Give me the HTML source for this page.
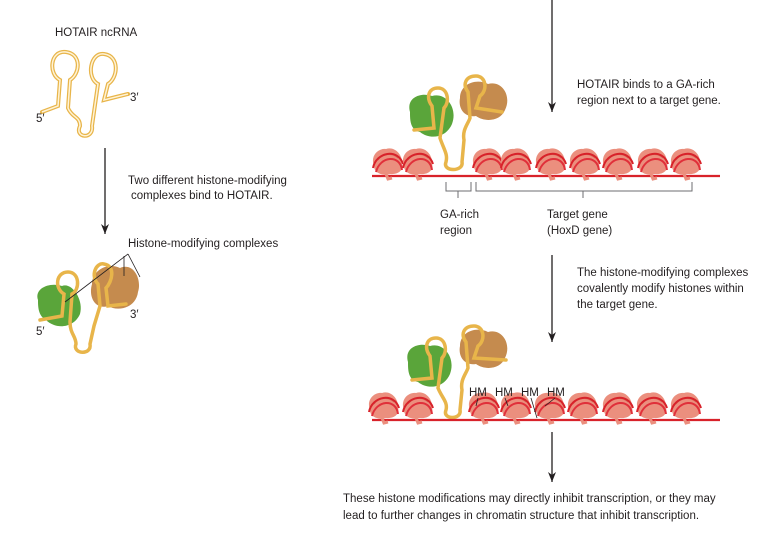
<!DOCTYPE html>
<html><head><meta charset="utf-8"><style>
html,body{margin:0;padding:0;background:#fff}
svg{display:block}
text{font-family:"Liberation Sans",sans-serif;font-size:11.5px;fill:#231f20}
</style></head><body>
<svg width="776" height="542" viewBox="0 0 776 542" xmlns="http://www.w3.org/2000/svg">
<defs>
<marker id="ah" markerWidth="12" markerHeight="10" refX="10" refY="4" orient="auto" markerUnits="userSpaceOnUse">
<path d="M0,0 L10,4 L0,8 L3,4 Z" fill="#231f20"/></marker>
<g id="nuc">
<path d="M-14,4 C-18,-6 -10,-14 -2,-13 C6,-16 15,-8 14,2 C16,8 10,13 2,12 C-6,14 -14,11 -14,4Z" fill="#eb8f7e"/>
<path d="M-10,-2 C-6,-8 4,-10 10,-4" stroke="#d5705f" stroke-width="1.2" fill="none"/>
<path d="M-15,6 C-12,-10 10,-14 15,2" stroke="#d8222a" stroke-width="2" fill="none"/>
<path d="M-12,10 C-8,-6 12,-8 14,8" stroke="#e0303a" stroke-width="2" fill="none"/>
<path d="M-2,12 L0,17 L4,16" stroke="#eb8f7e" stroke-width="3" fill="none"/>
</g>
</defs>

<!-- left RNA 1 -->
<g stroke="#e8b54a" stroke-width="4" fill="none" stroke-linecap="round">
<path d="M42,112 L58,106 L60,80 C48,74 50,50 66,52 C82,54 80,74 70,80 L68,108 C72,118 80,116 80,126 C74,138 94,140 92,126 L94,112 L98,84 C86,78 90,52 104,54 C120,56 118,78 108,84 L104,100 L128,94"/>
</g>
<g stroke="#fff3d6" stroke-width="1.5" fill="none">
<path d="M42,112 L58,106 L60,80 C48,74 50,50 66,52 C82,54 80,74 70,80 L68,108 C72,118 80,116 80,126 C74,138 94,140 92,126 L94,112 L98,84 C86,78 90,52 104,54 C120,56 118,78 108,84 L104,100 L128,94"/>
</g>
<text x="55" y="36">HOTAIR ncRNA</text>
<text x="36" y="122">5′</text>
<text x="130" y="101">3′</text>

<line x1="105" y1="148" x2="105" y2="234" stroke="#231f20" stroke-width="1.3" marker-end="url(#ah)"/>
<text x="128" y="184">Two different histone-modifying</text>
<text x="131" y="199">complexes bind to HOTAIR.</text>
<text x="128" y="247">Histone-modifying complexes</text>

<!-- left complex -->
<path d="M38,300 C34,288 50,282 62,286 C72,282 84,300 80,314 C74,328 56,330 46,320 C38,316 38,306 38,300Z" fill="#5aa53a"/>
<path d="M92,284 C92,270 108,262 120,268 C134,262 142,280 138,292 C136,308 118,312 108,306 C96,310 88,298 92,284Z" fill="#c58b4e"/>
<g stroke="#e8b54a" stroke-width="3.5" fill="none" stroke-linecap="round">
<path d="M40,320 L62,316 L64,294 C54,288 56,272 68,272 C80,272 80,290 72,294 L70,322 C70,334 76,336 76,344 C72,354 92,356 90,344 L94,326 L100,306 L98,284 C90,276 96,262 104,264 C116,266 112,282 106,288 L108,306 L126,304"/>
</g>
<line x1="65" y1="302" x2="128" y2="254" stroke="#231f20" stroke-width="0.8"/>
<line x1="128" y1="254" x2="140" y2="277" stroke="#231f20" stroke-width="0.8"/>
<line x1="124" y1="256" x2="124" y2="276" stroke="#231f20" stroke-width="0.8"/>
<text x="36" y="335">5′</text>
<text x="130" y="318">3′</text>

<!-- right arrows -->
<line x1="552" y1="0" x2="552" y2="112" stroke="#231f20" stroke-width="1.3" marker-end="url(#ah)"/>
<text x="577" y="88">HOTAIR binds to a GA-rich</text>
<text x="577" y="104">region next to a target gene.</text>

<!-- chromatin row1 -->
<path d="M372,176 L720,176" stroke="#d8222a" stroke-width="2.2" fill="none"/>
<g>
<use href="#nuc" x="388" y="162"/><use href="#nuc" x="418" y="162"/>
<use href="#nuc" x="488" y="162"/><use href="#nuc" x="516" y="162"/><use href="#nuc" x="551" y="162"/>
<use href="#nuc" x="585" y="162"/><use href="#nuc" x="618" y="162"/><use href="#nuc" x="653" y="162"/><use href="#nuc" x="686" y="162"/>
</g>
<!-- complex row1 -->
<path d="M410,112 C406,98 420,92 432,96 C446,92 458,108 452,124 C446,138 430,140 420,132 C410,130 410,120 410,112Z" fill="#5aa53a"/>
<path d="M460,98 C460,84 476,78 488,84 C502,80 512,96 505,110 C500,122 484,122 476,116 C464,118 458,108 460,98Z" fill="#c58b4e"/>
<g stroke="#e8b54a" stroke-width="3.5" fill="none" stroke-linecap="round">
<path d="M414,130 L434,128 L432,106 C426,98 428,88 438,88 C448,88 450,102 444,108 L440,138 C444,150 448,154 446,162 C442,172 464,172 462,162 L464,140 C462,130 468,124 470,118 L468,92 C462,84 466,76 476,76 C486,76 488,90 480,96 L476,108 L502,112"/>
</g>
<path d="M446,182 L446,191 L471,191 L471,182 M458,191 L458,198 M476,182 L476,191 L692,191 L692,182 M583,191 L583,198" stroke="#6d6e71" stroke-width="1" fill="none"/>
<text x="440" y="218">GA-rich</text>
<text x="440" y="234">region</text>
<text x="547" y="218">Target gene</text>
<text x="547" y="234">(HoxD gene)</text>

<line x1="552" y1="255" x2="552" y2="342" stroke="#231f20" stroke-width="1.3" marker-end="url(#ah)"/>
<text x="577" y="276">The histone-modifying complexes</text>
<text x="577" y="292">covalently modify histones within</text>
<text x="577" y="308">the target gene.</text>

<!-- complex row2 -->
<path d="M408,362 C404,348 418,342 430,346 C444,342 456,358 450,374 C444,388 428,390 418,382 C408,380 408,370 408,362Z" fill="#5aa53a"/>
<path d="M460,346 C460,332 476,326 488,332 C502,328 512,344 505,358 C500,370 484,370 476,364 C464,366 458,356 460,346Z" fill="#c58b4e"/>
<g stroke="#e8b54a" stroke-width="3.5" fill="none" stroke-linecap="round">
<path d="M412,380 L432,378 L430,356 C424,348 426,338 436,338 C446,338 448,352 442,358 L438,388 C442,398 448,402 446,410 C442,420 462,420 460,410 L462,390 C460,380 466,374 468,368 L466,342 C460,334 464,326 474,326 C484,326 486,340 478,346 L474,358 L506,360"/>
</g>
<path d="M372,420 L720,420" stroke="#d8222a" stroke-width="2.2" fill="none"/>
<g>
<use href="#nuc" x="384" y="406"/><use href="#nuc" x="418" y="406"/>
<use href="#nuc" x="484" y="406"/><use href="#nuc" x="516" y="406"/><use href="#nuc" x="550" y="406"/>
<use href="#nuc" x="583" y="406"/><use href="#nuc" x="618" y="406"/><use href="#nuc" x="652" y="406"/><use href="#nuc" x="686" y="406"/>
</g>
<text x="469" y="396">HM</text><text x="495" y="396">HM</text><text x="521" y="396">HM</text><text x="547" y="396">HM</text>
<path d="M478,398 L476,406 M505,398 L508,406 M531,398 L537,418 M555,398 L545,406" stroke="#231f20" stroke-width="0.8"/>

<line x1="552" y1="432" x2="552" y2="482" stroke="#231f20" stroke-width="1.3" marker-end="url(#ah)"/>
<text x="343" y="502">These histone modifications may directly inhibit transcription, or they may</text>
<text x="343" y="519">lead to further changes in chromatin structure that inhibit transcription.</text>
</svg>
</body></html>
